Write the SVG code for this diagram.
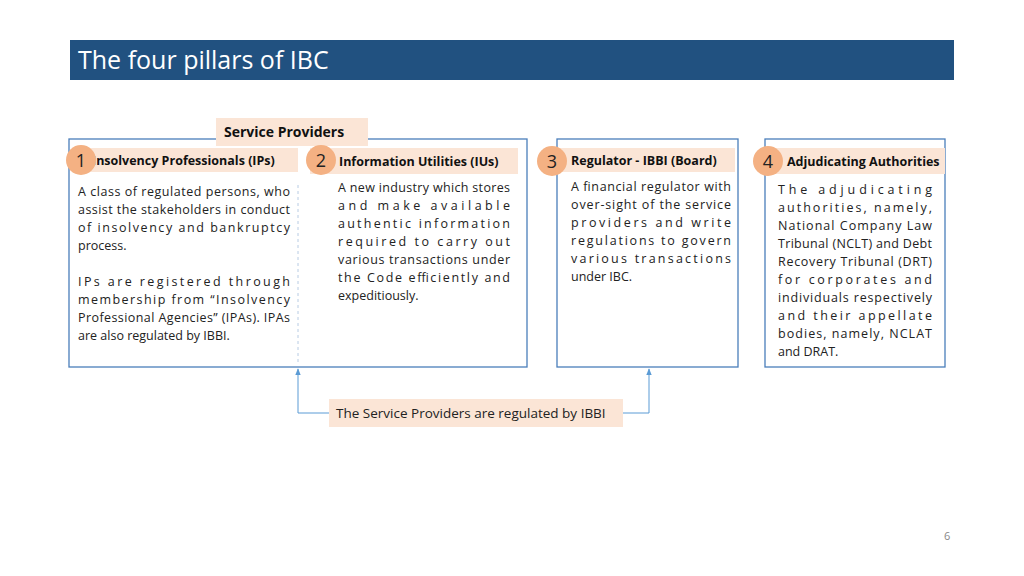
<svg xmlns="http://www.w3.org/2000/svg" width="1024" height="576" viewBox="0 0 1024 576">
<defs>
<marker id="ar" viewBox="0 0 10 10" refX="9" refY="5" markerWidth="7" markerHeight="7" orient="auto"><path d="M0,1 L10,5 L0,9 z" fill="#5b9bd5"/></marker>
</defs>
<style>
.box{fill:#fff;stroke:#4a7ebb;stroke-width:1.3}
.band{fill:#fbe5d6}
.circ{fill:#f4b183}
.num{font:18px "Open Sans",sans-serif;fill:#222;text-anchor:middle}
.hd{font:bold 12.5px "Open Sans",sans-serif;fill:#111}
.t{font:12.5px "Open Sans",sans-serif;fill:#222}
.con{fill:none;stroke:#5b9bd5;stroke-width:1}
</style>
<rect width="1024" height="576" fill="#fff"/>
<g id="title"><rect x="70" y="40" width="884" height="40" fill="#215180"/>
<text x="78" y="69" style="font:25px 'Open Sans',sans-serif;fill:#fff">The four pillars of IBC</text></g>
<g id="sp-box"><rect class="box" x="69" y="139" width="458" height="228"/>
<line x1="298" y1="185" x2="298" y2="365" stroke="#b8cce4" stroke-dasharray="3,3"/></g>
<g id="sp-label"><rect class="band" x="216" y="118" width="152" height="28"/><text class="hd" x="224" y="137" style="font-size:14px">Service Providers</text></g>
<g id="n1"><rect class="band" x="82" y="148" width="216" height="24"/>
<text class="hd" x="92" y="165">Insolvency Professionals (IPs)</text>
<circle class="circ" cx="81" cy="160" r="15"/><text class="num" x="81" y="167">1</text>
<text class="t" x="78" y="196" textLength="212" lengthAdjust="spacing">A class of regulated persons, who</text>
<text class="t" x="78" y="214" textLength="212" lengthAdjust="spacing">assist the stakeholders in conduct</text>
<text class="t" x="78" y="232" textLength="212" lengthAdjust="spacing">of insolvency and bankruptcy</text>
<text class="t" x="78" y="250">process.</text>
<text class="t" x="78" y="286" textLength="212" lengthAdjust="spacing">IPs are registered through</text>
<text class="t" x="78" y="304" textLength="212" lengthAdjust="spacing">membership from “Insolvency</text>
<text class="t" x="78" y="322" textLength="212" lengthAdjust="spacing">Professional Agencies” (IPAs). IPAs</text>
<text class="t" x="78" y="340">are also regulated by IBBI.</text></g>
<g id="n2"><rect class="band" x="310" y="148" width="208" height="26"/>
<text class="hd" x="339" y="166">Information Utilities (IUs)</text>
<circle class="circ" cx="321" cy="160" r="15"/><text class="num" x="321" y="167">2</text>
<text class="t" x="338" y="192" textLength="172" lengthAdjust="spacing">A new industry which stores</text>
<text class="t" x="338" y="210" textLength="172" lengthAdjust="spacing">and make available</text>
<text class="t" x="338" y="228" textLength="172" lengthAdjust="spacing">authentic information</text>
<text class="t" x="338" y="246" textLength="172" lengthAdjust="spacing">required to carry out</text>
<text class="t" x="338" y="264" textLength="172" lengthAdjust="spacing">various transactions under</text>
<text class="t" x="338" y="282" textLength="172" lengthAdjust="spacing">the Code efficiently and</text>
<text class="t" x="338" y="300">expeditiously.</text></g>
<g id="n3"><rect class="box" x="557" y="139" width="181" height="228"/>
<rect class="band" x="545" y="148" width="190" height="24"/>
<text class="hd" x="571" y="165">Regulator - IBBI (Board)</text>
<circle class="circ" cx="552" cy="161" r="15"/><text class="num" x="552" y="168">3</text>
<text class="t" x="571" y="191" textLength="160" lengthAdjust="spacing">A financial regulator with</text>
<text class="t" x="571" y="209" textLength="160" lengthAdjust="spacing">over-sight of the service</text>
<text class="t" x="571" y="227" textLength="160" lengthAdjust="spacing">providers and write</text>
<text class="t" x="571" y="245" textLength="160" lengthAdjust="spacing">regulations to govern</text>
<text class="t" x="571" y="263" textLength="160" lengthAdjust="spacing">various transactions</text>
<text class="t" x="571" y="281">under IBC.</text></g>
<g id="n4"><rect class="box" x="765" y="139" width="180" height="228"/>
<rect class="band" x="770" y="148" width="175" height="26"/>
<text class="hd" x="787" y="166">Adjudicating Authorities</text>
<circle class="circ" cx="768" cy="161" r="15"/><text class="num" x="768" y="168">4</text>
<text class="t" x="778" y="194" textLength="154" lengthAdjust="spacing">The adjudicating</text>
<text class="t" x="778" y="212" textLength="154" lengthAdjust="spacing">authorities, namely,</text>
<text class="t" x="778" y="230" textLength="154" lengthAdjust="spacing">National Company Law</text>
<text class="t" x="778" y="248" textLength="154" lengthAdjust="spacing">Tribunal (NCLT) and Debt</text>
<text class="t" x="778" y="266" textLength="154" lengthAdjust="spacing">Recovery Tribunal (DRT)</text>
<text class="t" x="778" y="284" textLength="154" lengthAdjust="spacing">for corporates and</text>
<text class="t" x="778" y="302" textLength="154" lengthAdjust="spacing">individuals respectively</text>
<text class="t" x="778" y="320" textLength="154" lengthAdjust="spacing">and their appellate</text>
<text class="t" x="778" y="338" textLength="154" lengthAdjust="spacing">bodies, namely, NCLAT</text>
<text class="t" x="778" y="356">and DRAT.</text></g>
<g id="connectors">
<path class="con" d="M329,413 H298 V369" marker-end="url(#ar)"/>
<path class="con" d="M623,413 H649 V369" marker-end="url(#ar)"/>
</g>
<g id="note"><rect class="band" x="329" y="399" width="294" height="28"/>
<text class="t" x="336" y="418" style="font-size:13.5px">The Service Providers are regulated by IBBI</text></g>
<text x="944" y="540" style="font:11px 'Open Sans',sans-serif;fill:#888">6</text>
</svg>
